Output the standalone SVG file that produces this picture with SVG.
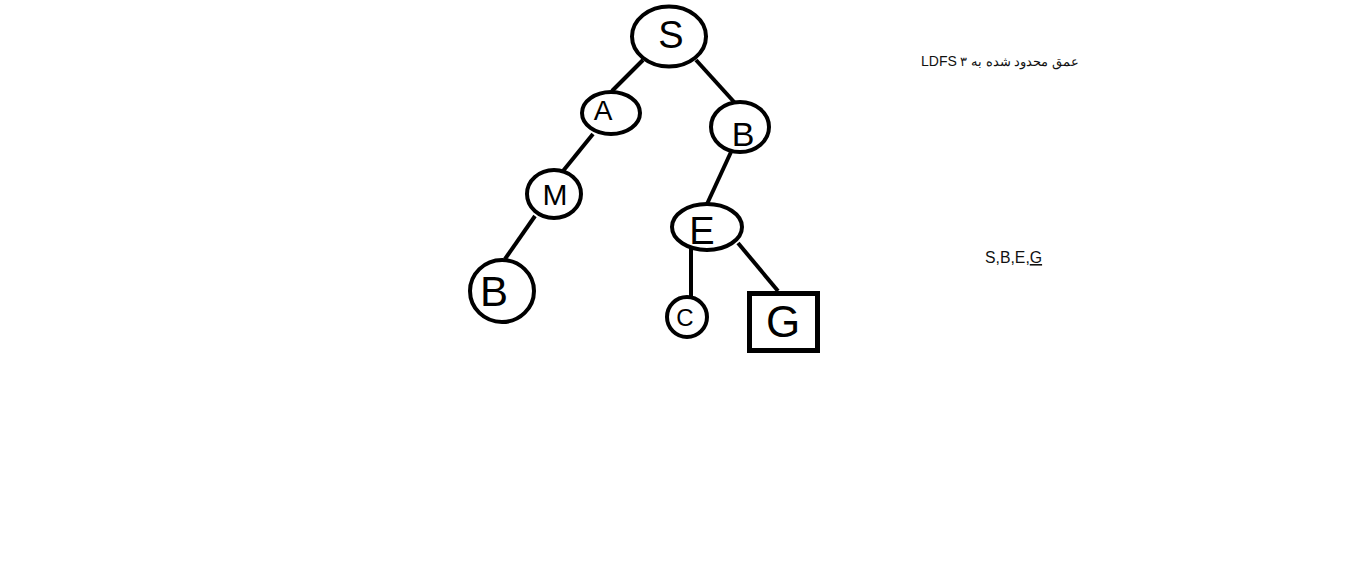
<svg xmlns="http://www.w3.org/2000/svg" width="1354" height="567" viewBox="0 0 1354 567">
<style>
.n{fill:#fff;stroke:#000;stroke-width:4}
.e{stroke:#000;stroke-width:4;stroke-linecap:butt}
.l{font-family:"Liberation Sans",Arial,sans-serif;fill:#000;text-anchor:middle}
.t{font-family:"Liberation Sans",Arial,sans-serif;fill:#111}
</style>
<rect width="1354" height="567" fill="#fff"/>
<g id="connectors">
<line class="e" x1="643" y1="60" x2="612" y2="91"/>
<line class="e" x1="696" y1="60" x2="735" y2="103"/>
<line class="e" x1="593" y1="134" x2="563" y2="171"/>
<line class="e" x1="535" y1="216" x2="505" y2="259"/>
<line class="e" x1="731" y1="152" x2="707" y2="204"/>
<line class="e" x1="691" y1="246" x2="691" y2="298"/>
<line class="e" x1="738" y1="243" x2="778" y2="291"/>
</g>
<g id="node-S"><ellipse class="n" cx="669" cy="36.5" rx="37" ry="30"/><text class="l" x="671" y="48" font-size="38">S</text></g>
<g id="node-A"><ellipse class="n" cx="611" cy="113" rx="29" ry="21"/><text class="l" x="603" y="120" font-size="28">A</text></g>
<g id="node-B1"><ellipse class="n" cx="740" cy="127" rx="29" ry="25"/><text class="l" x="743" y="146" font-size="34">B</text></g>
<g id="node-M"><ellipse class="n" cx="554" cy="194" rx="27" ry="24"/><text class="l" x="555" y="205" font-size="30">M</text></g>
<g id="node-E"><ellipse class="n" cx="707" cy="227" rx="35" ry="23"/><text class="l" x="702" y="244" font-size="38">E</text></g>
<g id="node-B2"><ellipse class="n" cx="502" cy="291" rx="32" ry="31"/><text class="l" x="494" y="306" font-size="42">B</text></g>
<g id="node-C"><ellipse class="n" cx="687" cy="317" rx="20" ry="20"/><text class="l" x="685" y="326" font-size="24">C</text></g>
<g id="node-G"><rect x="749.5" y="293.5" width="68" height="57" fill="#fff" stroke="#000" stroke-width="5"/><text class="l" x="783" y="337" font-size="44">G</text></g>
<text class="t" x="1000" y="66" font-size="13" text-anchor="middle" direction="rtl" style="direction:rtl;unicode-bidi:embed">عمق محدود شده به ۳ <tspan font-size="14">LDFS</tspan></text>
<text class="t" x="985" y="263" font-size="15.8">S,B,E,<tspan text-decoration="underline">G</tspan></text>
</svg>
